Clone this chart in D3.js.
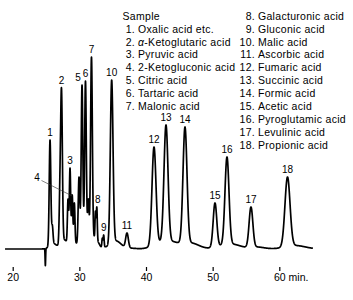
<!DOCTYPE html>
<html><head><meta charset="utf-8">
<script src="https://cdn.jsdelivr.net/npm/d3@7"></script>
<style>
html,body{margin:0;padding:0;background:#fff;}
svg{display:block;font-family:"Liberation Sans",Arial,Helvetica,sans-serif;}
</style></head><body>
<svg id="c" width="353" height="300"></svg>
<script>
// Chromatogram peaks
// retention time (min), apex height of the trace (detector units), width sigma (min), label
const peakTimes   = [24.9, 25.6, 25.95, 27.08, 27.32, 28.3, 28.6, 28.93, 29.25, 29.95, 30.4, 30.92, 31.35, 31.82, 32.42, 32.62, 33.45, 33.65, 34.85, 37.15, 41.2, 43.0, 45.85, 50.35, 52.15, 55.75, 61.23];
const peakHeights = [-17, 109, 24, 75, 161, 50, 81, 54, 46, 72, 164, 168, 50, 192, 38, 42, 11, 14, 169, 16, 102, 124, 122, 46, 92, 42, 72];
const peakWidths  = [0.04, 0.12, 0.1, 0.11, 0.13, 0.09, 0.1, 0.09, 0.09, 0.12, 0.12, 0.12, 0.1, 0.13, 0.07, 0.07, 0.07, 0.07, 0.2, 0.2, 0.3, 0.3, 0.3, 0.27, 0.3, 0.28, 0.38];
const peakLabels  = ["", "1", "", "", "2", "", "3", "4", "", "", "5", "6", "", "7", "", "8", "", "9", "10", "11", "12", "13", "14", "15", "16", "17", "18"];

const tickValues = [20, 30, 40, 50, 60];
const tickLabels = ["20", "30", "40", "50", "60 min."];

const legendTitle = "Sample";
const legendNames = ["Oxalic acid etc.", "α-Ketoglutaric acid", "Pyruvic acid", "2-Ketogluconic acid",
  "Citric acid", "Tartaric acid", "Malonic acid", "Galacturonic acid", "Gluconic acid", "Malic acid",
  "Ascorbic acid", "Fumaric acid", "Succinic acid", "Formic acid", "Acetic acid", "Pyroglutamic acid",
  "Levulinic acid", "Propionic acid"];

const timeStart = 18.85, timeEnd = 65.05;

const svg = d3.select("#c");
const x = d3.scaleLinear().domain([20, 60]).range([12.7, 279.3]);
const y = d3.scaleLinear().domain([0, 200]).range([249, 49]);

// component amplitudes, fitted so that the trace apex at each peak time equals the read height
const amps = peakHeights.slice();
function signal(t) {
  let s = 0;
  for (let i = 0; i < peakTimes.length; i++) {
    const h = amps[i], w = peakWidths[i], d = t - peakTimes[i];
    s += h * Math.exp(-0.5 * (d / w) * (d / w));
    if (h > 0) {
      const dt = (d - 3 * w) / (4 * w);
      s += 0.05 * h * Math.exp(-0.5 * dt * dt);
    }
  }
  return s;
}
for (let it = 0; it < 30; it++) {
  const cur = peakTimes.map(signal);
  peakHeights.forEach((h, i) => { if (h > 0) amps[i] = Math.max(0, amps[i] + 0.7 * (h - cur[i])); });
}

const times = d3.range(timeStart, timeEnd, 0.01);
const trace = times.map(t => ({t, v: signal(t)}));

svg.append("path")
  .datum(trace)
  .attr("fill", "none")
  .attr("stroke", "#000")
  .attr("stroke-width", 1.7)
  .attr("stroke-linejoin", "round")
  .attr("d", d3.line().x(d => x(d.t)).y(d => y(d.v)));

// peak labels
const labelG = svg.append("g").attr("font-size", 10).attr("fill", "#000").attr("text-anchor", "middle");
peakLabels.forEach((lab, i) => {
  if (!lab) return;
  const px = x(peakTimes[i]);
  const py = y(peakHeights[i]);
  if (lab === "4") {
    labelG.append("text").attr("x", 37).attr("y", 181).text(lab);
    svg.append("line").attr("x1", 41.5).attr("y1", 180.5).attr("x2", px).attr("y2", py + 1)
      .attr("stroke", "#333").attr("stroke-width", 0.6);
    return;
  }
  const dx = lab === "5" ? -4 : (lab === "8" ? 1 : 0);
  labelG.append("text").attr("x", px + dx).attr("y", py - 4.5).text(lab);
});

// axis
const axis = d3.axisBottom(x).tickValues(tickValues).tickSize(4).tickPadding(2.5)
  .tickFormat((d, i) => tickLabels[i]);
const ag = svg.append("g").attr("transform", "translate(0,267)").call(axis);
ag.select(".domain").remove();
ag.selectAll(".tick line").attr("stroke", "#000").attr("stroke-width", 1.2);
ag.selectAll(".tick text").attr("font-size", 10.5).attr("font-family", null).attr("fill", "#000");
ag.selectAll(".tick text").filter((d, i) => i === tickValues.length - 1)
  .attr("text-anchor", "start").attr("x", -5.8);

// legend
const lg = svg.append("g").attr("font-size", 10.5).attr("letter-spacing", 0.3).attr("fill", "#000");
const rowH = 12.9, top0 = 19.7;
lg.append("text").attr("x", 122.5).attr("y", top0).text(legendTitle);
legendNames.forEach((name, i) => {
  const n = i + 1;
  const left = n <= 7;
  const row = left ? n : n - 8;
  const ny = top0 + row * rowH;
  const numX = left ? 135 : 255;
  lg.append("text").attr("x", numX).attr("y", ny).attr("text-anchor", "end").text(n + ".");
  const t = lg.append("text").attr("x", numX + 3).attr("y", ny);
  if (name.startsWith("α")) {
    t.append("tspan").attr("font-style", "italic").text("α");
    t.append("tspan").text(name.slice(1));
  } else {
    t.text(name);
  }
});
</script>
</body></html>
